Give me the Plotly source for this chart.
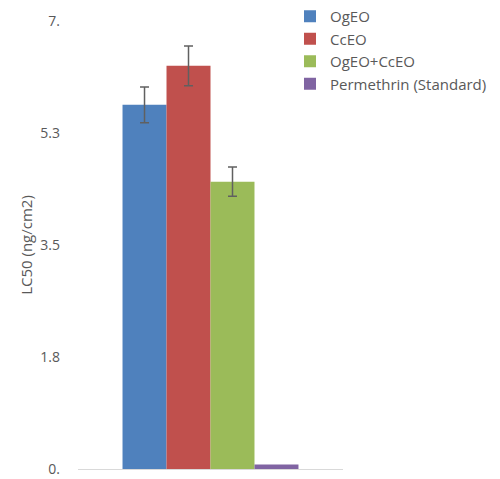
import plotly.graph_objects as go

series = ["OgEO", "CcEO", "OgEO+CcEO", "Permethrin (Standard)"]
values = [5.69, 6.30, 4.49, 0.07]
errors = [0.28, 0.31, 0.23, 0.0]
colors = ["#4f81bd", "#c0504d", "#9bbb59", "#8064a2"]
category = [""]
tick_vals = [0, 1.75, 3.5, 5.25, 7]
tick_text = ["0.", "1.8", "3.5", "5.3", "7."]

fig = go.Figure()
for name, v, e, c in zip(series, values, errors, colors):
    fig.add_trace(go.Bar(
        x=category, y=[v], name=name, marker_color=c,
        marker_line_width=0,
        error_y=dict(type="data", array=[e], visible=e > 0,
                     color="#606060", thickness=1.5, width=4.5),
    ))

font_family = "'Open Sans', Lato, sans-serif"
fig.update_layout(
    width=500, height=479,
    barmode="group", bargap=0.336, bargroupgap=0,
    plot_bgcolor="white", paper_bgcolor="white",
    margin=dict(l=78, r=157, t=21, b=10, autoexpand=False),
    font=dict(family=font_family, size=15, color="#595959"),
    showlegend=True,
    legend=dict(x=0.80, y=1.0, xref="paper", yref="container",
                xanchor="left", yanchor="top",
                font=dict(size=15, color="#595959"),
                bgcolor="rgba(0,0,0,0)", itemwidth=30),
    xaxis=dict(showticklabels=False, showline=True, linecolor="#d9d9d9",
               linewidth=1, ticks="", showgrid=False, zeroline=False,
               range=[-0.5, 0.5], automargin=False),
    yaxis=dict(range=[0, 7], tickvals=tick_vals, ticktext=tick_text,
               showgrid=False, zeroline=False, showline=False, ticks="",
               ticklabelstandoff=17, automargin=False,
               ticklabeloverflow="allow",
               tickfont=dict(size=14),
               title=dict(text="LC50 (ng/cm2)", standoff=4,
                          font=dict(size=15, color="#595959"))),
)

fig.write_html(
    "out.html",
    config={"displayModeBar": False},
    post_script="document.body.style.margin='0';document.body.style.overflow='hidden';",
)
